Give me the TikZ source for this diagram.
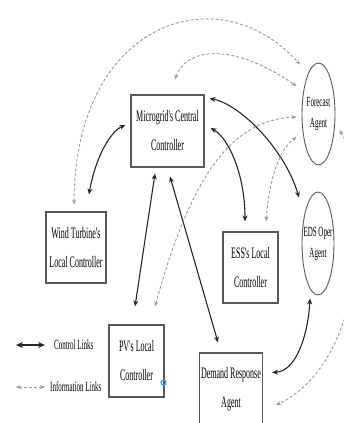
\documentclass[tikz,border=0pt]{standalone}
\usepackage{fontspec}
\newfontfamily\cf[FakeStretch=0.5]{Liberation Serif}
\usetikzlibrary{arrows.meta,shapes.geometric}
\definecolor{boxline}{gray}{0.35}
\definecolor{infocol}{gray}{0.6}
\definecolor{dotblue}{RGB}{60,150,225}
\begin{document}
\begin{tikzpicture}[x=1pt,y=-1pt,
  box/.style={draw=boxline, line width=1.1pt, fill=white, align=center, inner sep=0pt,
    font=\cf\fontsize{16}{29}\selectfont},
  agent/.style={draw=boxline, line width=0.9pt, ellipse, inner sep=0pt},
  agtext/.style={font=\cf\fontsize{14}{21}\selectfont, align=center},
  ctrl/.style={{Stealth[length=6pt,width=5pt]}-{Stealth[length=6pt,width=5pt]}, line width=1.1pt, draw=black!85},
  info/.style={{Stealth[length=5pt,width=4pt]}-{Stealth[length=5pt,width=4pt]}, line width=0.9pt, draw=infocol, dash pattern=on 3pt off 2pt},
  legtext/.style={font=\cf\fontsize{14}{16}\selectfont, anchor=west, inner sep=0pt}
]
\useasboundingbox (0,0) rectangle (344,423);
\clip (0,0) rectangle (344,423);

% nodes
\node[box, minimum width=73, minimum height=72] (cc) at (167.5,131) {Microgrid's Central\\Controller};
\node[box, minimum width=60, minimum height=71] (wt) at (76,247.5) {Wind Turbine's\\Local Controller};
\node[box, minimum width=55, minimum height=71] (ess) at (250.5,267.5) {ESS's Local\\Controller};
\node[box, minimum width=55, minimum height=72] (pv) at (136.5,361) {PV's Local\\Controller};
\node[box, minimum width=63, minimum height=73] (dr) at (231,389.5) {Demand Response\\Agent};
\node[agent, minimum width=33, minimum height=102, label={[agtext]center:Forecast\\Agent}] (fc) at (318.5,114) {};
\node[agent, minimum width=32, minimum height=103, label={[agtext]center:EDS Oper\\Agent}] (eds) at (318,243.5) {};
\node[circle, draw=dotblue, line width=1.2pt, minimum size=5pt, inner sep=0pt] (dot) at (163.5,382.5) {};

% control links
\draw[ctrl] ([xshift=13pt,yshift=17pt]wt.north) .. controls +(6,-35) and +(-16,7) .. ([xshift=-5pt,yshift=6pt]cc.west);
\draw[ctrl] ([xshift=-12.5pt,yshift=-6pt]cc.south) -- ([xshift=-1.5pt,yshift=18pt]pv.north);
\draw[ctrl] ([xshift=2.5pt,yshift=-9pt]cc.south) -- ([xshift=-13pt,yshift=10pt]dr.north);
\draw[ctrl] ([xshift=6pt,yshift=3pt]cc.east) .. controls +(18,10) and +(0,-47) .. ([xshift=-5.5pt,yshift=10pt]ess.north);
\draw[ctrl] ([xshift=5pt,yshift=-4pt]cc.north east) .. controls +(31,6) and +(-14,-48) .. ([xshift=-19pt,yshift=-6pt]eds.north);
\draw[ctrl] ([xshift=-8pt,yshift=-3pt]eds.south) .. controls +(-2,37) and +(24,-1) .. ([xshift=9pt,yshift=-20pt]dr.north east);

% information links
\draw[info] ([xshift=-2pt,yshift=7pt]wt.north) .. controls +(1,-185) and +(-80,-90) .. ([xshift=-18.5pt,yshift=-2pt]fc.north);
\draw[info] ([xshift=7.5pt,yshift=15pt]cc.north) .. controls +(10,-30) and +(-67,-46) .. ([xshift=-5pt,yshift=28pt]fc.west);
\draw[info] ([xshift=18.5pt,yshift=18pt]pv.north) .. controls +(35,-127) and +(-67,3) .. ([xshift=-5pt,yshift=-3pt]fc.west);
\draw[info] ([xshift=15.5pt,yshift=10pt]ess.north) .. controls +(4,-47) and +(-17,13) .. ([xshift=-5pt,yshift=-23pt]fc.west);
\draw[info] ([xshift=4pt,yshift=-16pt]fc.east) .. controls +(31,50) and +(95,-45) .. ([xshift=13pt,yshift=-15.5pt]dr.east);

% legend
\coordinate (c1) at (16,345);
\coordinate (c2) at (45,345);
\coordinate (i1) at (16,387);
\coordinate (i2) at (45,387);
\draw[ctrl, line width=1.6pt, {Stealth[length=7pt,width=6pt]}-{Stealth[length=7pt,width=6pt]}] (c1) -- (c2);
\draw[info] (i1) -- (i2);
\node[legtext] (lc) at (54,345) {Control Links};
\node[legtext] (li) at (50,387) {Information Links};
\end{tikzpicture}
\end{document}
